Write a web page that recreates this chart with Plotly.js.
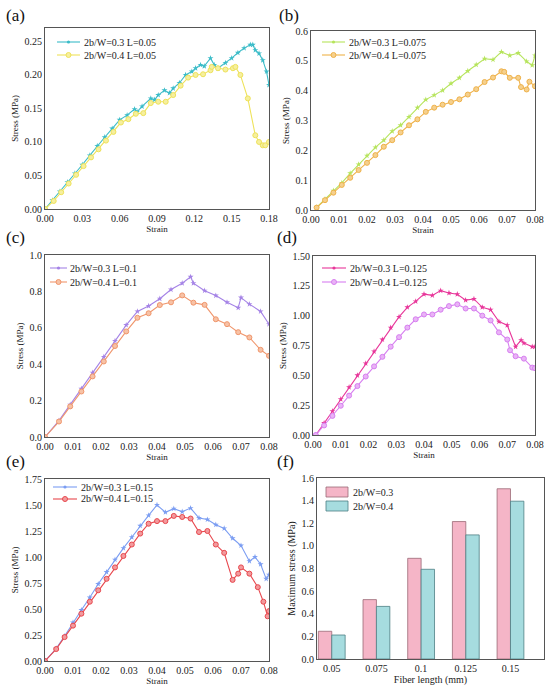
<!DOCTYPE html>
<html>
<head>
<meta charset="utf-8">
<script src="https://cdn.plot.ly/plotly-3.0.1.min.js"></script>
<style>html,body{margin:0;padding:0;background:#fff;}#chart{width:550px;height:688px;}</style>
</head>
<body>
<div id="chart"></div>
<script>
// ---------- data ----------
const A_x1 = [0,0.006,0.012,0.018,0.024,0.030,0.036,0.042,0.048,0.054,0.060,0.066,0.072,0.074,0.078,0.085,0.088,0.091,0.096,0.100,0.103,0.108,0.113,0.118,0.121,0.125,0.128,0.133,0.136,0.139,0.145,0.150,0.155,0.160,0.165,0.167,0.169,0.172,0.175,0.178,0.180];
const A_y1 = [0,0.013,0.026,0.040,0.053,0.066,0.080,0.094,0.107,0.120,0.133,0.140,0.149,0.145,0.153,0.165,0.163,0.170,0.177,0.173,0.180,0.188,0.200,0.205,0.210,0.215,0.213,0.225,0.215,0.210,0.218,0.225,0.233,0.240,0.245,0.245,0.237,0.232,0.222,0.205,0.185];
const A_x2 = [0,0.007,0.013,0.019,0.025,0.031,0.037,0.043,0.049,0.055,0.061,0.067,0.073,0.079,0.085,0.091,0.097,0.103,0.109,0.115,0.121,0.127,0.133,0.134,0.139,0.145,0.151,0.153,0.157,0.163,0.169,0.172,0.175,0.177,0.180];
const A_y2 = [0,0.012,0.025,0.038,0.051,0.064,0.077,0.089,0.102,0.115,0.129,0.134,0.142,0.143,0.158,0.160,0.160,0.170,0.184,0.196,0.200,0.201,0.207,0.212,0.210,0.208,0.210,0.212,0.200,0.165,0.110,0.100,0.095,0.095,0.100];

const B_x1 = [0.002,0.005,0.008,0.011,0.014,0.017,0.020,0.023,0.026,0.029,0.032,0.035,0.038,0.041,0.044,0.047,0.050,0.053,0.056,0.059,0.062,0.065,0.068,0.071,0.074,0.077,0.079,0.080];
const B_y1 = [0.009,0.036,0.065,0.091,0.123,0.153,0.182,0.210,0.234,0.264,0.284,0.312,0.343,0.370,0.385,0.401,0.424,0.443,0.466,0.487,0.507,0.504,0.530,0.518,0.526,0.498,0.485,0.518];
const B_x2 = [0.002,0.005,0.008,0.011,0.014,0.017,0.020,0.023,0.026,0.029,0.032,0.035,0.038,0.041,0.044,0.047,0.050,0.053,0.056,0.059,0.062,0.065,0.068,0.069,0.071,0.074,0.075,0.077,0.078,0.080];
const B_y2 = [0.008,0.033,0.058,0.084,0.108,0.134,0.158,0.184,0.212,0.234,0.260,0.284,0.304,0.329,0.343,0.353,0.362,0.371,0.387,0.405,0.429,0.444,0.465,0.463,0.443,0.443,0.412,0.404,0.430,0.415];

const C_x1 = [0,0.005,0.009,0.013,0.017,0.021,0.025,0.029,0.033,0.037,0.041,0.045,0.049,0.052,0.053,0.057,0.061,0.065,0.069,0.070,0.073,0.077,0.080];
const C_y1 = [0,0.090,0.178,0.265,0.353,0.440,0.528,0.615,0.690,0.720,0.760,0.810,0.845,0.880,0.845,0.804,0.777,0.740,0.710,0.766,0.730,0.690,0.620];
const C_x2 = [0,0.005,0.009,0.013,0.017,0.021,0.025,0.029,0.033,0.037,0.041,0.045,0.049,0.053,0.057,0.061,0.065,0.069,0.073,0.077,0.080];
const C_y2 = [0,0.085,0.168,0.250,0.333,0.415,0.500,0.580,0.655,0.680,0.725,0.740,0.778,0.738,0.726,0.647,0.620,0.576,0.547,0.479,0.446];

const D_x1 = [0.001,0.004,0.007,0.010,0.013,0.016,0.019,0.022,0.025,0.028,0.031,0.034,0.037,0.040,0.043,0.046,0.049,0.052,0.055,0.058,0.061,0.064,0.067,0.070,0.073,0.075,0.076,0.079,0.080];
const D_y1 = [0,0.10,0.20,0.30,0.40,0.50,0.60,0.70,0.80,0.90,0.99,1.07,1.12,1.18,1.17,1.21,1.19,1.18,1.13,1.14,1.07,1.05,0.95,0.92,0.74,0.795,0.77,0.74,0.74];
const D_x2 = [0.001,0.004,0.007,0.010,0.013,0.016,0.019,0.022,0.025,0.028,0.031,0.034,0.037,0.040,0.043,0.046,0.049,0.052,0.055,0.058,0.061,0.064,0.067,0.070,0.071,0.073,0.076,0.079,0.080];
const D_y2 = [0,0.08,0.16,0.245,0.33,0.41,0.49,0.575,0.655,0.74,0.82,0.90,0.97,1.01,1.01,1.05,1.08,1.095,1.06,1.06,1.00,0.96,0.86,0.80,0.71,0.66,0.64,0.565,0.56];

const E_x1 = [0,0.004,0.007,0.010,0.013,0.016,0.019,0.022,0.025,0.028,0.031,0.034,0.037,0.040,0.043,0.046,0.049,0.052,0.055,0.058,0.061,0.064,0.067,0.070,0.073,0.075,0.077,0.079,0.080];
const E_y1 = [0,0.12,0.24,0.37,0.49,0.61,0.74,0.855,0.975,1.085,1.19,1.30,1.40,1.50,1.43,1.465,1.435,1.47,1.375,1.36,1.31,1.275,1.18,1.11,0.96,1.00,0.93,0.79,0.83];
const E_x2 = [0,0.004,0.007,0.010,0.013,0.016,0.019,0.022,0.025,0.028,0.031,0.034,0.037,0.040,0.043,0.046,0.049,0.052,0.055,0.058,0.061,0.064,0.067,0.069,0.070,0.073,0.076,0.078,0.0795,0.080];
const E_y2 = [0,0.115,0.23,0.34,0.455,0.57,0.68,0.79,0.90,1.01,1.12,1.225,1.32,1.345,1.345,1.395,1.385,1.37,1.24,1.25,1.12,1.04,0.78,0.84,0.90,0.84,0.71,0.57,0.43,0.48];

const F_categories = ['0.05','0.075','0.1','0.125','0.15'];
const F_max03 = [0.245,0.525,0.89,1.215,1.505];
const F_max04 = [0.212,0.465,0.793,1.097,1.395];

const names = {
  a1:'2b/W=0.3 L=0.05', a2:'2b/W=0.4 L=0.05',
  b1:'2b/W=0.3 L=0.075', b2:'2b/W=0.4 L=0.075',
  c1:'2b/W=0.3 L=0.1', c2:'2b/W=0.4 L=0.1',
  d1:'2b/W=0.3 L=0.125', d2:'2b/W=0.4 L=0.125',
  e1:'2b/W=0.3 L=0.15', e2:'2b/W=0.4 L=0.15',
  f1:'2b/W=0.3', f2:'2b/W=0.4'
};

// ---------- styles ----------
const COL = {
  a1:'#3bbcc8', a2:'#eee25a', a2f:'#f6ef9e',
  b1:'#b6e45c', b2:'#efb24a', b2f:'#f5d08e',
  c1:'#a583e6', c2:'#f0966c', c2f:'#f7c2a6',
  d1:'#e8369a', d2:'#d77ff0', d2f:'#e9b3f6',
  e1:'#7b9df2', e2:'#e8484e', e2f:'#f29a9d',
  f1:'#f5b5c7', f1l:'#9a6a76', f2:'#a6dcdf', f2l:'#4d7f84'
};
const FONT = '"Liberation Serif", "Times New Roman", "DejaVu Serif", serif';
const W = 550, H = 688;
const px = v => v / W;
const py = v => 1 - v / H;
const dx = (l, r) => [px(l), px(r)];
const dy = (t, b) => [py(b), py(t)];

function s1(x, y, name, color, xa, ya) {
  return {x, y, name, type:'scatter', mode:'lines+markers', xaxis:xa, yaxis:ya, showlegend:false,
    line:{color, width:1.1}, marker:{symbol:'star', size:4.5, color, line:{width:0}}};
}
function s2(x, y, name, color, fill, xa, ya) {
  return {x, y, name, type:'scatter', mode:'lines+markers', xaxis:xa, yaxis:ya, showlegend:false,
    line:{color, width:1.1}, marker:{symbol:'circle', size:5, color:fill, line:{color, width:1}}};
}

const data = [
  s1(A_x1, A_y1, names.a1, COL.a1, 'x', 'y'),
  s2(A_x2, A_y2, names.a2, COL.a2, COL.a2f, 'x', 'y'),
  s1(B_x1, B_y1, names.b1, COL.b1, 'x2', 'y2'),
  s2(B_x2, B_y2, names.b2, COL.b2, COL.b2f, 'x2', 'y2'),
  s1(C_x1, C_y1, names.c1, COL.c1, 'x3', 'y3'),
  s2(C_x2, C_y2, names.c2, COL.c2, COL.c2f, 'x3', 'y3'),
  s1(D_x1, D_y1, names.d1, COL.d1, 'x4', 'y4'),
  s2(D_x2, D_y2, names.d2, COL.d2, COL.d2f, 'x4', 'y4'),
  s1(E_x1, E_y1, names.e1, COL.e1, 'x5', 'y5'),
  s2(E_x2, E_y2, names.e2, COL.e2, COL.e2f, 'x5', 'y5'),
  {x:F_categories, y:F_max03, name:names.f1, type:'bar', xaxis:'x6', yaxis:'y6', showlegend:false,
    marker:{color:COL.f1, line:{color:COL.f1l, width:0.8}}},
  {x:F_categories, y:F_max04, name:names.f2, type:'bar', xaxis:'x6', yaxis:'y6', showlegend:false,
    marker:{color:COL.f2, line:{color:COL.f2l, width:0.8}}}
];

function xax(domain, range, dtick, fmt, anchor, title, tsize) {
  return {domain, range, dtick, tick0:0, tickformat:fmt, anchor, showgrid:false, zeroline:false,
    showline:true, linecolor:'#555', linewidth:1, mirror:true, ticks:'',
    tickfont:{family:FONT, size:10, color:'#222'},
    title:{text:title, font:{family:FONT, size:tsize||9, color:'#222'}, standoff:0}};
}
function yax(domain, range, dtick, fmt, anchor, title, tsize) {
  return {domain, range, dtick, tick0:0, tickformat:fmt, anchor, showgrid:false, zeroline:false,
    showline:true, linecolor:'#555', linewidth:1, mirror:true, ticks:'',
    tickfont:{family:FONT, size:10, color:'#222'},
    title:{text:title, font:{family:FONT, size:tsize||9, color:'#222'}, standoff:4}};
}

// ---------- custom legends (paper pixels) ----------
const shapes = [];
const annotations = [];
function legLine(x0, x1, yc, color, fill, kind, text, xt) {
  shapes.push({type:'line', xref:'paper', yref:'paper', x0:px(x0), x1:px(x1), y0:py(yc), y1:py(yc),
    line:{color, width:1.1}});
  const xm = (x0 + x1) / 2, r = kind === 'circle' ? 2.5 : 1.6;
  shapes.push({type:'circle', xref:'paper', yref:'paper', x0:px(xm - r), x1:px(xm + r), y0:py(yc + r), y1:py(yc - r),
    fillcolor: kind === 'circle' ? fill : color, line:{color, width: kind === 'circle' ? 1 : 0}});
  annotations.push({text, xref:'paper', yref:'paper', x:px(xt), y:py(yc), xanchor:'left', yanchor:'middle',
    showarrow:false, font:{family:FONT, size:10, color:'#222'}});
}
function legBox(x0, x1, yc, h, color, lcolor, text, xt) {
  shapes.push({type:'rect', xref:'paper', yref:'paper', x0:px(x0), x1:px(x1), y0:py(yc + h / 2), y1:py(yc - h / 2),
    fillcolor:color, line:{color:lcolor, width:0.8}});
  annotations.push({text, xref:'paper', yref:'paper', x:px(xt), y:py(yc), xanchor:'left', yanchor:'middle',
    showarrow:false, font:{family:FONT, size:10, color:'#222'}});
}
legLine(57, 80, 42, COL.a1, null, 'star', names.a1, 82);
legLine(57, 80, 55, COL.a2, COL.a2f, 'circle', names.a2, 82);
legLine(322, 345, 42, COL.b1, null, 'star', names.b1, 347);
legLine(322, 345, 55, COL.b2, COL.b2f, 'circle', names.b2, 347);
legLine(50, 67, 268, COL.c1, null, 'star', names.c1, 68);
legLine(50, 67, 282, COL.c2, COL.c2f, 'circle', names.c2, 68);
legLine(322, 346, 268, COL.d1, null, 'star', names.d1, 348);
legLine(322, 346, 282, COL.d2, COL.d2f, 'circle', names.d2, 348);
legLine(53, 77, 487, COL.e1, null, 'star', names.e1, 79);
legLine(53, 77, 499, COL.e2, COL.e2f, 'circle', names.e2, 79);
legBox(326, 348, 492, 10, COL.f1, COL.f1l, names.f1, 351);
legBox(326, 348, 506, 10, COL.f2, COL.f2l, names.f2, 351);

function lab(text, xpx, ypx) {
  annotations.push({text, xref:'paper', yref:'paper', x:px(xpx), y:py(ypx), xanchor:'left', yanchor:'middle',
    showarrow:false, font:{family:FONT, size:17, color:'#111'}});
}
lab('(a)', 4, 15); lab('(b)', 277, 15);
lab('(c)', 4, 237); lab('(d)', 275, 237);
lab('(e)', 4, 461); lab('(f)', 275, 461);

const layout = {
  width:W, height:H, margin:{l:0, r:0, t:0, b:0},
  paper_bgcolor:'#fff', plot_bgcolor:'#fff', showlegend:false,
  font:{family:FONT},
  barmode:'group', bargap:0.4, bargroupgap:0,
  xaxis:  xax(dx(45,269),  [0,0.18], 0.03, '.2f', 'y',  'Strain'),
  yaxis:  yax(dy(28,209),  [0,0.27], 0.05, '.2f', 'x',  'Stress (MPa)'),
  xaxis2: xax(dx(311,535), [0,0.08], 0.01, '.2f', 'y2', 'Strain'),
  yaxis2: yax(dy(31,210),  [0,0.6],  0.1,  '.1f', 'x2', 'Stress (MPa)'),
  xaxis3: xax(dx(45,269),  [0,0.08], 0.01, '.2f', 'y3', 'Strain'),
  yaxis3: yax(dy(255,437), [0,1.0],  0.2,  '.1f', 'x3', 'Stress (MPa)'),
  xaxis4: xax(dx(313,535), [0,0.08], 0.01, '.2f', 'y4', 'Strain'),
  yaxis4: yax(dy(256,435), [0,1.5],  0.25, '.2f', 'x4', 'Stress (MPa)'),
  xaxis5: xax(dx(45,269),  [0,0.08], 0.01, '.2f', 'y5', 'Strain'),
  yaxis5: yax(dy(479,661), [0,1.75], 0.25, '.2f', 'x5', 'Stress (MPa)'),
  xaxis6: Object.assign(xax(dx(317,544), [-0.33,4.75], null, '', 'y6', 'Fiber length (mm)', 10), {type:'category', dtick:undefined, tick0:undefined}),
  yaxis6: yax(dy(478,659), [0,1.6],  0.2,  '.1f', 'x6', 'Maximum stress (MPa)', 10),
  shapes, annotations
};

Plotly.newPlot('chart', data, layout, {staticPlot:true, displayModeBar:false});
</script>
</body>
</html>
